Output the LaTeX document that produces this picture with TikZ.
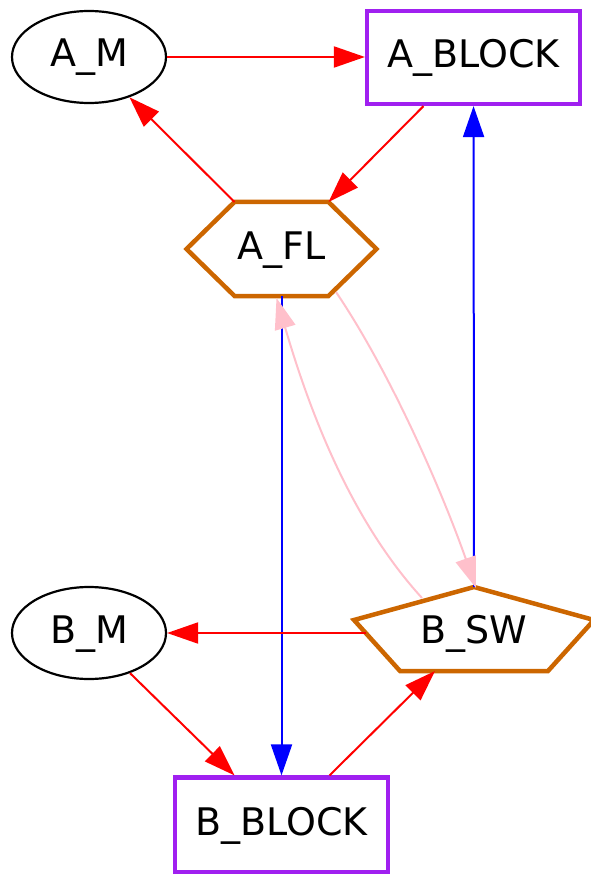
\documentclass[tikz,border=0pt]{standalone}
\usepackage{fontspec}
\setmainfont{DejaVu Sans}
\usetikzlibrary{arrows.meta,shapes.geometric,calc}
\definecolor{blockpurple}{HTML}{A020F0}
\definecolor{florange}{HTML}{CC6600}
\definecolor{edgepink}{HTML}{FFC0CB}
\begin{document}
\begin{tikzpicture}[x=1pt,y=-1pt,
  lbl/.style={font=\fontsize{38}{45}\selectfont, inner sep=0pt,
    text height=27pt, text depth=7pt},
  mnode/.style={lbl, ellipse, draw=black, line width=2.2pt,
    minimum width=154pt, minimum height=92pt},
  blocknode/.style={lbl, rectangle, draw=blockpurple, line width=4.2pt,
    minimum width=213pt, minimum height=93pt},
  outline/.style={draw=florange, line width=4.5pt, line join=miter},
  tip/.style={-{Triangle[length=31pt,width=21pt]}},
  redge/.style={tip, draw=red, line width=2pt},
  bedge/.style={tip, draw=blue, line width=2pt},
  pedge/.style={tip, draw=edgepink, line width=2pt}]
\useasboundingbox (0,0) rectangle (590,874);

% nodes
\node[mnode] (am) at (89,57) {A\_M};
\node[blocknode] (ablock) at (473.5,57.5) {A\_BLOCK};
\node[lbl] (afl) at (281.5,249) {A\_FL};
\node[lbl] (bsw) at (474,633) {B\_SW};
\node[mnode] (bm) at (89,633) {B\_M};
\node[blocknode, minimum height=95pt] (bblock) at (281.5,825) {B\_BLOCK};

% hexagon around A_FL
\coordinate (afl-tl) at ($(afl)+(-47,-47)$);
\coordinate (afl-tr) at ($(afl)+(47,-47)$);
\coordinate (afl-e)  at ($(afl)+(95,0)$);
\coordinate (afl-br) at ($(afl)+(47,47)$);
\coordinate (afl-bl) at ($(afl)+(-47,47)$);
\coordinate (afl-w)  at ($(afl)+(-95,0)$);
\draw[outline] (afl-tl) -- (afl-tr) -- (afl-e) -- (afl-br) -- (afl-bl) -- (afl-w) -- cycle;
\coordinate (afl-s)  at ($(afl)+(0,47)$);
\coordinate (afl-se) at ($(afl)+(54.5,43)$);
\coordinate (afl-in) at ($(afl)+(-5,49)$);

% pentagon around B_SW
\coordinate (bsw-top) at ($(bsw)+(0,-46)$);
\coordinate (bsw-r)   at ($(bsw)+(120,-13)$);
\coordinate (bsw-br)  at ($(bsw)+(74,38)$);
\coordinate (bsw-bl)  at ($(bsw)+(-74,38)$);
\coordinate (bsw-l)   at ($(bsw)+(-120,-13)$);
\draw[outline] (bsw-top) -- (bsw-r) -- (bsw-br) -- (bsw-bl) -- (bsw-l) -- cycle;
\coordinate (bsw-w)  at ($(bsw)+(-108,0)$);
\coordinate (bsw-nw) at ($(bsw)+(-52,-35)$);
\coordinate (bsw-in) at ($(bsw)+(-39,38)$);
\coordinate (bsw-tin) at ($(bsw)+(2,-45)$);

% connectors
\draw[redge] (am.east) -- (am.east -| ablock.west);
\draw[redge] (afl-tl) -- (am);
\draw[redge] ($(ablock.south)+(-50,0)$) -- (afl-tr);
\draw[bedge] (bsw-top) -- (ablock);
\draw[bedge] (afl-s) -- (bblock);
\draw[pedge] (afl-se) .. controls +(56,83) and +(-33,-94) .. (bsw-tin);
\draw[pedge] (bsw-nw) .. controls +(-74,-81) and +(31,106) .. (afl-in);
\draw[redge] (bsw-w) -- (bm);
\draw[redge] (bm) -- ($(bblock.north)+(-47,0)$);
\draw[redge] ($(bblock.north)+(48,0)$) -- (bsw-in);
\end{tikzpicture}
\end{document}
